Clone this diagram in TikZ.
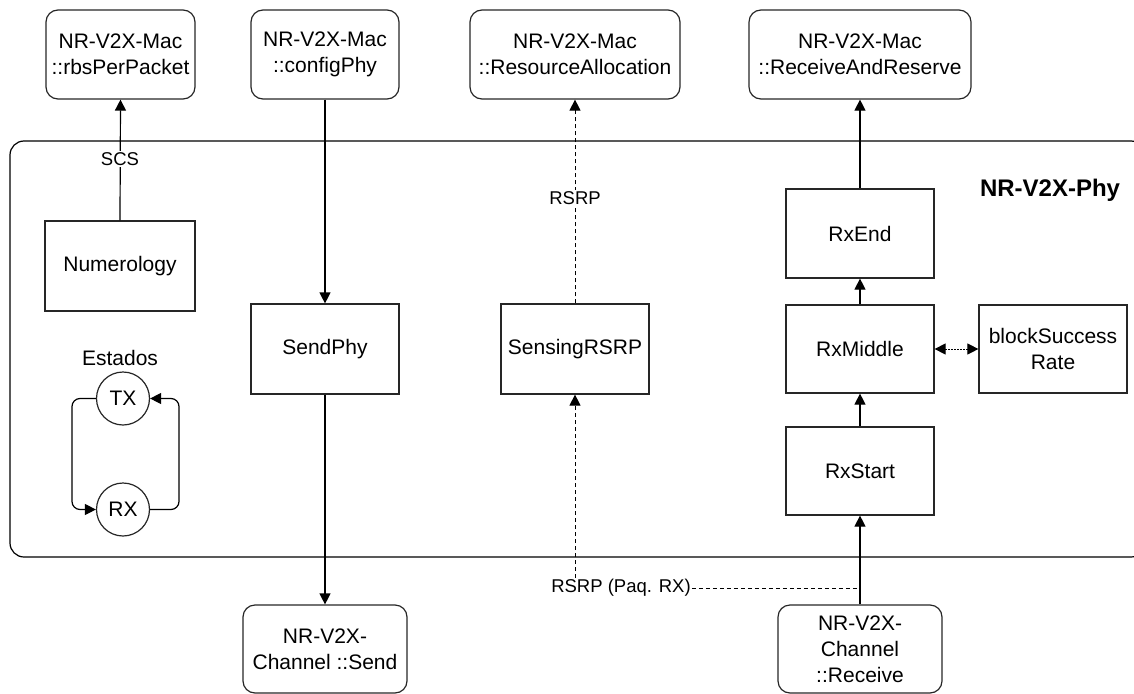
\documentclass[tikz,border=0pt]{standalone}
\usepackage{fontspec}
\setmainfont{Liberation Sans}
\usetikzlibrary{arrows.meta}
\tikzset{
  base/.style={draw=black!85, line width=1.2pt, inner sep=0pt, align=center,
    font=\fontsize{21}{26}\selectfont},
  macbox/.style={base, rounded corners=12pt, minimum height=89pt},
  blk/.style={base, minimum width=148pt, minimum height=89pt},
  st/.style={base, circle, minimum size=53pt},
  lbl/.style={inner sep=1pt, fill=white, font=\fontsize{18.5}{22}\selectfont},
  tip/.style={},
  conn/.style={line width=1.2pt, -{Triangle[length=11pt,width=11pt]}},
  dconn/.style={line width=1pt, dash pattern=on 4pt off 3pt, -{Triangle[length=11pt,width=11pt]}},
  dline/.style={line width=1pt, dash pattern=on 4pt off 3pt},
  dotconn/.style={line width=1pt, dash pattern=on 1.5pt off 1.5pt,
    {Triangle[length=11pt,width=11pt]}-{Triangle[length=11pt,width=11pt]}},
}
\begin{document}
\begin{tikzpicture}[x=1pt,y=-1pt]
\useasboundingbox (0,0) rectangle (1134,693);
% PHY container
\draw[line width=1.2pt, rounded corners=14pt] (10,141) rectangle (1145,557);
\node[font=\bfseries\fontsize{24}{28}\selectfont] (phy) at (1050,190) {NR-V2X-Phy};
% MAC boxes
\node[macbox, minimum width=149pt] (rbs) at (120.5,54.5) {NR-V2X-Mac\\::rbsPerPacket};
\node[macbox, minimum width=148pt] (cfg) at (325,54.5) {NR-V2X-Mac\\::configPhy};
\node[macbox, minimum width=210pt] (res) at (575,54.5) {NR-V2X-Mac\\::ResourceAllocation};
\node[macbox, minimum width=222pt] (rar) at (860,54.5) {NR-V2X-Mac\\::ReceiveAndReserve};
% PHY blocks
\node[blk, minimum width=150pt, minimum height=90pt] (num) at (120,266) {Numerology};
\node[blk, minimum height=90pt] (send) at (325,349) {SendPhy};
\node[blk, minimum height=90pt] (sens) at (575,349) {SensingRSRP};
\node[blk] (rxend) at (860,233.5) {RxEnd};
\node[blk, minimum height=88pt] (rxmid) at (860,349) {RxMiddle};
\node[blk, minimum height=88pt] (rxst) at (860,471) {RxStart};
\node[blk, minimum height=88pt] (bsr) at (1053,349) {blockSuccess\\Rate};
% states
\node[font=\fontsize{21}{26}\selectfont] (est) at (120,358) {Estados};
\node[st] (tx) at (123,398.5) {TX};
\node[st] (rx) at (123,509.5) {RX};
% channel boxes
\node[macbox, minimum width=164pt, minimum height=88pt] (chs) at (325,649) {NR-V2X-\\Channel ::Send};
\node[macbox, minimum width=164pt, minimum height=88pt] (chr) at (860,649) {NR-V2X-\\Channel\\::Receive};
% connectors
\draw[conn] (num.north) -- (rbs.south);
\node[lbl] (scs) at (120,159) {SCS};
\draw[conn] (cfg.south) -- (send.north);
\draw[conn] (send.south) -- (chs.north);
\draw[dconn] (sens.north) -- (res.south);
\node[lbl] (rsrp) at (575,198) {RSRP};
\node[lbl] (rsrpp) at (621,588) {RSRP (Paq. RX)};
\draw[dconn] (sens.south |- rsrpp.north) -- (sens.south);
\draw[dline] (rsrpp.east) -- (rsrpp.east -| chr.north);
\draw[conn] (chr.north) -- (rxst.south);
\draw[conn] (rxst.north) -- (rxmid.south);
\draw[conn] (rxmid.north) -- (rxend.south);
\draw[conn] (rxend.north) -- (rar.south);
\draw[dotconn] (rxmid.east) -- (bsr.west);
\draw[conn, rounded corners=8pt] (tx.west) -- (72,398.5) -- (72,509.5) -- (rx.west);
\draw[conn, rounded corners=8pt] (rx.east) -- (179,509.5) -- (179,398.5) -- (tx.east);
\end{tikzpicture}
\end{document}
